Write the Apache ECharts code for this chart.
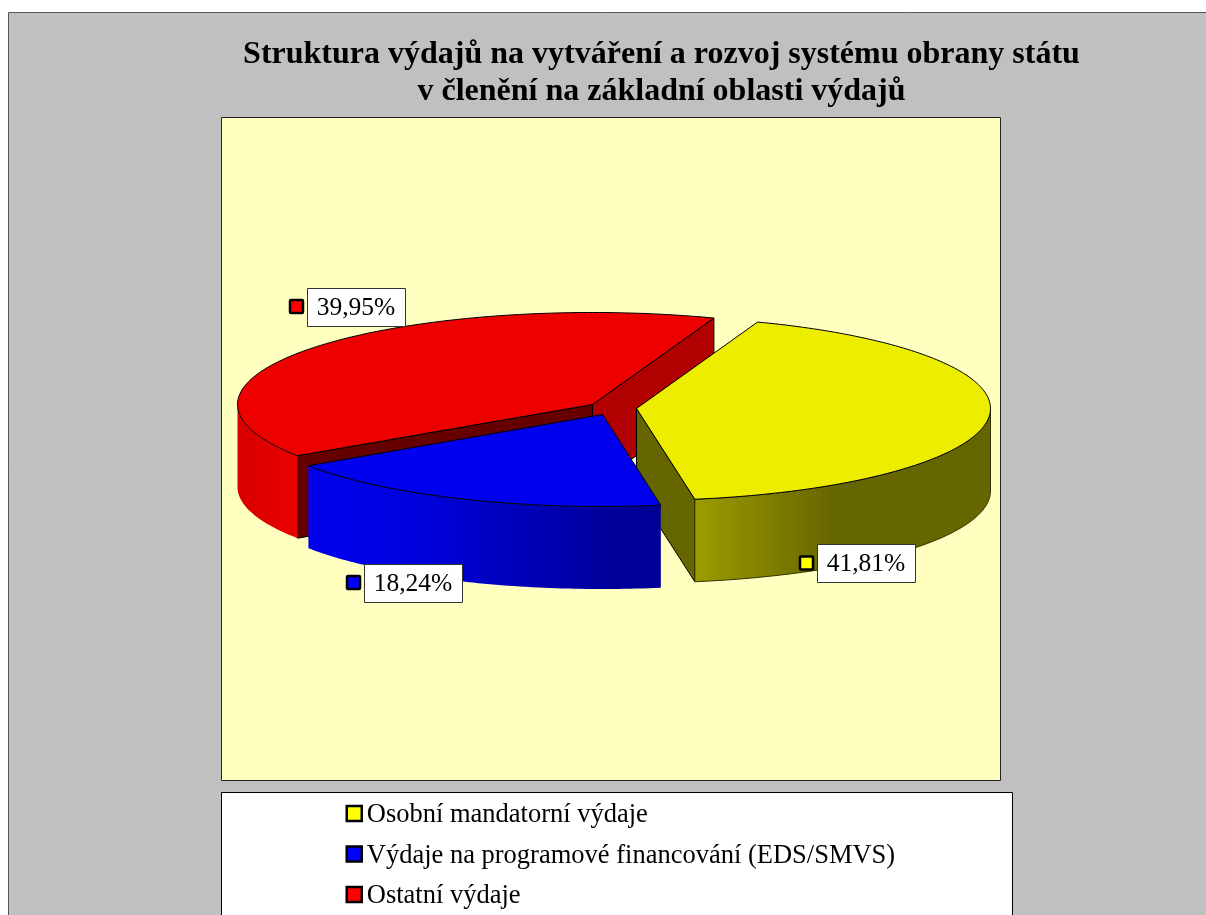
<!DOCTYPE html>
<html>
<head>
<meta charset="utf-8">
<style>html,body{margin:0;padding:0;background:#fff;overflow:hidden}#c{width:1206px;height:915px}</style>
<script src="https://cdn.jsdelivr.net/npm/echarts@6/dist/echarts.min.js"></script>
</head>
<body>
<div id="c"></div>
<script>
// ---- data ----
var categories = ['Osobní mandatorní výdaje', 'Výdaje na programové financování (EDS/SMVS)', 'Ostatní výdaje'];
var shares = [41.81, 18.24, 39.95];
var titleLines = ['Struktura výdajů na vytváření a rozvoj systému obrany státu', 'v členění na základní oblasti výdajů'];

// ---- styles / layout ----
var FONT = '"Liberation Serif","Times New Roman",serif';
var keyColors = ['#FFFF00', '#0000FF', '#FF0000'];
var topColors = ['#EDED00', '#0000EE', '#EE0000'];
var startCut = ['#666600', '#000099', '#660000'];
var endCut = ['#666600', '#000099', '#B00000'];
var wallStops = [
  [[0, '#9C9C00'], [0.47, '#666600'], [1, '#666600']],
  [[0, '#0000EE'], [0.3, '#0000DE'], [0.88, '#000099'], [1, '#000099']],
  [[0, '#D80000'], [1, '#EA0000']]
];
var apexX = [636.5, 602.5, 592.5];
var apexY = [408.5, 414.5, 404.5];
var radX = [354, 354, 355];
var radY = 92, depth = 82.5, firstAngle = 70;
var labelBox = [[817.5, 544.5], [364.5, 564.5], [307.5, 288.5]];
var keyBox = [[800, 556.5], [347, 576], [290, 300]];
var drawZ = [3, 4, 2];

var d2r = Math.PI / 180;
function sliceAngles(i) {
  var a = firstAngle;
  for (var k = 0; k < i; k++) a -= shares[k] * 3.6;
  return [a, a - shares[i] * 3.6];
}
function fmt(v) { return v.toFixed(2).replace('.', ',') + '%'; }

function makeRender(i) {
  return function (params, api) {
    var value = api.value(0);
    var ang = sliceAngles(i), a0 = ang[0], a1 = a0 - value * 3.6;
    var cx = apexX[i], cy = apexY[i], rx = radX[i];
    function pt(a, dy) { return [cx + rx * Math.cos(a * d2r), cy - radY * Math.sin(a * d2r) + (dy || 0)]; }
    var children = [];
    function cut(a, col) {
      var r = pt(a), rb = pt(a, depth);
      children.push({ type: 'polygon', shape: { points: [[cx, cy], r, rb, [cx, cy + depth]] },
        style: { fill: col, stroke: '#000', lineWidth: 1 } });
    }
    if (Math.cos(a0 * d2r) < 0) cut(a0, startCut[i]);
    if (Math.cos(a1 * d2r) > 0) cut(a1, endCut[i]);
    // outer wall: the part of the rim on the near side
    var lo = Math.max(a1, -180), hi = Math.min(a0, 0);
    if (hi > lo) {
      var upper = [], lower = [];
      for (var a = hi; a > lo; a -= 1) { upper.push(pt(a)); lower.unshift(pt(a, depth)); }
      upper.push(pt(lo)); lower.unshift(pt(lo, depth));
      var stops = wallStops[i].map(function (s) { return { offset: s[0], color: s[1] }; });
      children.push({ type: 'polygon', shape: { points: upper.concat(lower) },
        style: { fill: new echarts.graphic.LinearGradient(0, 0, 1, 0, stops), stroke: i === 0 ? '#333300' : null, lineWidth: 1 } });
    }
    // top face
    var face = [[cx, cy]];
    for (var b = a0; b > a1; b -= 1) face.push(pt(b));
    face.push(pt(a1));
    children.push({ type: 'polygon', shape: { points: face }, style: { fill: topColors[i], stroke: '#000', lineWidth: 1 } });
    // value label with its key
    var lb = labelBox[i], kb = keyBox[i];
    children.push({ type: 'rect', shape: { x: lb[0], y: lb[1], width: 98, height: 38 }, style: { fill: '#fff', stroke: '#333', lineWidth: 1 } });
    children.push({ type: 'text', style: { text: fmt(value), x: lb[0] + 48.5, y: lb[1] + 20, fill: '#000', font: '25.5px ' + FONT, textAlign: 'center', textVerticalAlign: 'middle' } });
    children.push({ type: 'rect', shape: { x: kb[0], y: kb[1], width: 13, height: 13, r: 1 }, style: { fill: keyColors[i], stroke: '#000', lineWidth: 2.5 } });
    return { type: 'group', children: children };
  };
}

var series = categories.map(function (name, i) {
  return {
    type: 'custom', name: name, coordinateSystem: 'none', z: drawZ[i],
    itemStyle: { color: keyColors[i] },
    data: [[shares[i]]],
    renderItem: makeRender(i),
    silent: true, animation: false
  };
});

var chart = echarts.init(document.getElementById('c'), null, { renderer: 'canvas' });
chart.setOption({
  backgroundColor: '#fff',
  animation: false,
  title: [
    { text: titleLines[0], left: 661.5, top: 39, textAlign: 'center', textStyle: { fontFamily: FONT, fontWeight: 'bold', fontSize: 32, color: '#000' }, padding: 0 },
    { text: titleLines[1], left: 661.5, top: 76, textAlign: 'center', textStyle: { fontFamily: FONT, fontWeight: 'bold', fontSize: 32, color: '#000' }, padding: 0 }
  ],
  legend: {
    orient: 'vertical', left: 345.5, top: 798, height: 140, padding: 0, itemGap: 9.5, itemWidth: 15, itemHeight: 15,
    icon: 'rect', data: categories, selectedMode: false,
    itemStyle: { borderColor: '#000', borderWidth: 2.5 },
    formatter: function (n) { return '{s| }\n{t|' + n + '}'; },
    textStyle: { fontFamily: FONT, fontSize: 26.5, color: '#000',
      rich: {
        s: { fontSize: 4, lineHeight: 4 },
        t: { fontFamily: FONT, fontSize: 26.5, color: '#000', lineHeight: 27 }
      } }
  },
  graphic: [
    { type: 'rect', z: -10, silent: true, shape: { x: 8.5, y: 12.5, width: 1300, height: 1000 }, style: { fill: '#C0C0C0', stroke: '#555', lineWidth: 1 } },
    { type: 'rect', z: -9, silent: true, shape: { x: 221.5, y: 117.5, width: 779, height: 663 }, style: { fill: '#FFFFC0', stroke: '#222', lineWidth: 1 } },
    { type: 'rect', z: -9, silent: true, shape: { x: 221.5, y: 792.5, width: 791, height: 300 }, style: { fill: '#FFFFFF', stroke: '#000', lineWidth: 1 } }
  ],
  series: series
});
</script>
</body>
</html>
